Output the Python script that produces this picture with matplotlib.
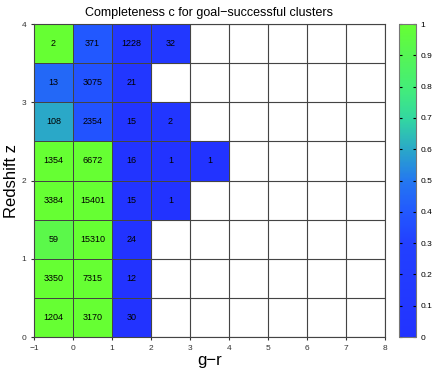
import matplotlib
matplotlib.use("Agg")
import matplotlib.pyplot as plt
import numpy as np
from matplotlib.colors import LinearSegmentedColormap

plt.rcParams['font.family'] = ['Liberation Sans', 'DejaVu Sans']

# bin edges
gr_edges = np.arange(-1, 9, 1)
z_edges = np.arange(0, 4.5, 0.5)

# rows go from z=0..0.5 (first) up to z=3.5..4 (last); columns g-r = -1..0, 0..1, ...
counts = [
    [1204, 3170, 30],
    [3350, 7315, 12],
    [59, 15310, 24],
    [3384, 15401, 15, 1],
    [1354, 6672, 16, 1, 1],
    [108, 2354, 15, 2],
    [13, 3075, 21],
    [2, 371, 1228, 32],
]
completeness = [
    [1.0, 1.0, 0.0],
    [1.0, 1.0, 0.0],
    [0.93, 1.0, 0.0],
    [1.0, 1.0, 0.02, 0.0],
    [1.0, 1.0, 0.02, 0.0, 0.0],
    [0.6, 0.38, 0.05, 0.08],
    [0.45, 0.38, 0.1],
    [1.0, 0.4, 0.12, 0.12],
]

ncol = len(gr_edges) - 1
nrow = len(z_edges) - 1
C = np.full((nrow, ncol), np.nan)
for i, row in enumerate(completeness):
    C[i, :len(row)] = row

cmap = LinearSegmentedColormap.from_list("compl", [
    (0.0, "#2233ff"), (0.3, "#2240ff"), (0.4, "#2258ff"), (0.5, "#2478f0"),
    (0.6, "#2aa8c8"), (0.7, "#33d8a0"), (0.8, "#44ee77"), (0.9, "#55f555"),
    (1.0, "#66ff33")])

fig = plt.figure(figsize=(4.36, 3.71), dpi=100)
ax = fig.add_axes([0.078, 0.0916, 0.805, 0.8437])
cax = fig.add_axes([0.915, 0.0916, 0.039, 0.8437])

# grid lines behind the cells
for x in gr_edges:
    ax.axvline(x, color="#999999", lw=0.9, zorder=0)
for y in z_edges:
    ax.axhline(y, color="#999999", lw=0.9, zorder=0)

mesh = ax.pcolormesh(gr_edges, z_edges, np.ma.masked_invalid(C), cmap=cmap,
                     vmin=0, vmax=1, edgecolors="#444444", linewidth=0.5, zorder=1)

for i, row in enumerate(counts):
    for j, n in enumerate(row):
        ax.text(gr_edges[j] + 0.5, z_edges[i] + 0.25, str(n), ha="center",
                va="center", fontsize=6.5, color="black", zorder=2)

ax.set_xlim(-1, 8)
ax.set_ylim(0, 4)
ax.set_xticks(gr_edges)
ax.set_xticklabels(["\u22121"] + [str(v) for v in gr_edges[1:]])
ax.set_yticks([0, 1, 2, 3, 4])
ax.tick_params(labelsize=6, length=2, direction="out", colors="#333333")
for s in ax.spines.values():
    s.set_color("#444444")
    s.set_linewidth(0.8)
ax.set_xlabel("g\u2212r", fontsize=12, labelpad=1)
ax.set_ylabel("Redshift z", fontsize=12, labelpad=2)
ax.set_title("Completeness c for goal\u2212successful clusters", fontsize=9, pad=6)

cb = fig.colorbar(mesh, cax=cax)
cb.set_ticks(np.arange(0, 1.01, 0.1))
cb.set_ticklabels(["0", "0.1", "0.2", "0.3", "0.4", "0.5", "0.6", "0.7", "0.8", "0.9", "1"])
cb.ax.tick_params(labelsize=6, length=2, direction="in", left=True)
cb.outline.set_edgecolor("#777777")

fig.savefig("out.png", dpi=100)
